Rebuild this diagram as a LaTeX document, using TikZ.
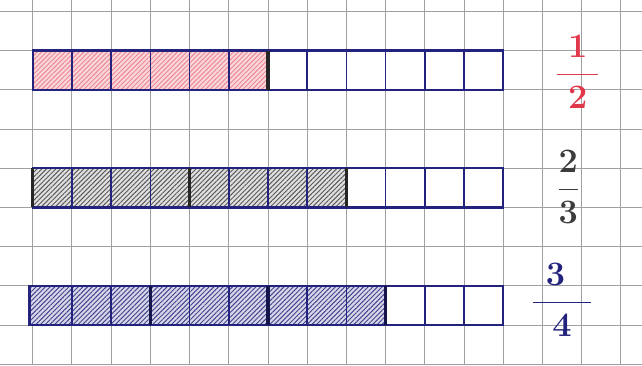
\documentclass[tikz,border=0pt]{standalone}
\usepackage{amsmath}
\usepackage{xcolor}
\usetikzlibrary{patterns.meta}

\definecolor{ink}{RGB}{35,35,125}
\definecolor{redink}{RGB}{225,55,75}
\definecolor{pencil}{RGB}{60,60,60}
\definecolor{paper}{RGB}{160,160,160}

\begin{document}
\begin{tikzpicture}[
  grd/.style={draw=paper, line width=0.6pt},
  bar/.style={draw=ink, line width=1.6pt},
  sep/.style={draw=ink, line width=1.2pt},
  dks/.style={draw=black!85, line width=2.4pt},
  hred/.style={preaction={fill=redink!20},
    pattern={Lines[angle=45,distance=2.4pt,line width=0.7pt]}, pattern color=redink!60},
  hgry/.style={preaction={fill=black!12},
    pattern={Lines[angle=45,distance=2.4pt,line width=0.7pt]}, pattern color=pencil!85},
  hblu/.style={preaction={fill=ink!18},
    pattern={Lines[angle=45,distance=2.4pt,line width=0.7pt]}, pattern color=ink!85},
  frc/.style={font=\fontsize{24}{28}\selectfont\boldmath, inner sep=0pt}
]
% paper and squared grid
\fill[white] (-0.834,-1.02) rectangle (15.54,8.29);
\useasboundingbox (-0.834,-1.02) rectangle (15.54,8.29);
\draw[grd] (-0.834,-1.02) grid (15.54,8.29);

% bar halves: 6 of 12
\fill[hred] (0,6) rectangle (6,7);
\foreach \i in {1,...,11} {
  \draw[sep] (\i,6) -- (\i,7);
}
\draw[bar] (0,6) rectangle (12,7);
\draw[dks] (6,6) -- (6,7);

% bar thirds: 8 of 12
\fill[hgry] (0,3) rectangle (8,4);
\foreach \i in {1,...,11} {
  \draw[sep] (\i,3) -- (\i,4);
}
\draw[bar] (0,3) rectangle (12,4);
\foreach \i in {0,4,8} {
  \draw[dks] (\i,3) -- (\i,4);
}

% bar quarters: 9 of 12
\fill[hblu] (-0.08,0) rectangle (9,1);
\foreach \i in {1,...,11} {
  \draw[sep] (\i,0) -- (\i,1);
}
\draw[bar] (-0.08,0) rectangle (12,1);
\foreach \i in {3,6,9} {
  \draw[dks, draw=ink!60!black] (\i,0) -- (\i,1);
}

% fractions
\node[frc, text=redink] (half) at (13.9,6.45) {$\dfrac{\mkern5mu1\mkern5mu}{2}$};
\node[frc, text=pencil] (third) at (13.66,3.52) {$\dfrac{2}{3}$};
\node[frc, text=ink] (quarter) at (13.5,0.64) {$\dfrac{\mkern6mu3\mkern12mu}{4}$};
\end{tikzpicture}
\end{document}
